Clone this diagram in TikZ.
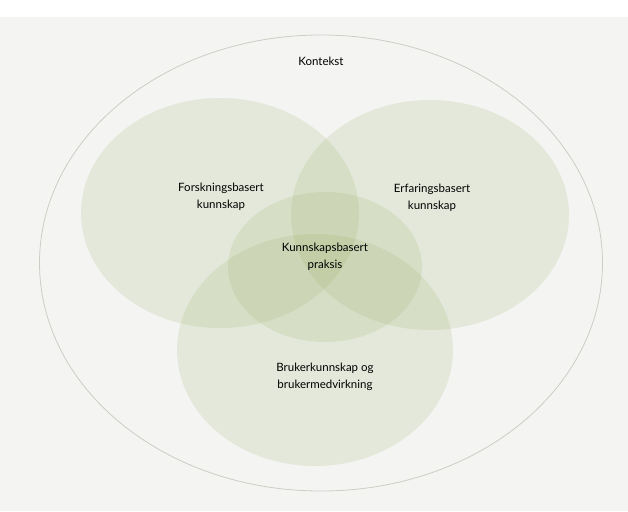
\documentclass[tikz,border=0pt]{standalone}
\usepackage{fontspec}
\setmainfont{Lato}
\begin{document}
\begin{tikzpicture}[x=1pt,y=-1pt,
    paper/.style={fill=paperbg,draw=none},
    field/.style={fill=sage,fill opacity=0.16,draw=none},
    frame/.style={draw=framegrey,line width=0.8pt},
    lbl/.style={align=center,text=black,inner sep=0pt,
                font=\fontsize{11.5}{17}\selectfont}]
  \definecolor{paperbg}{HTML}{F4F4F2}
  \definecolor{sage}{RGB}{150,172,95}
  \definecolor{framegrey}{HTML}{CDCDC5}
  \useasboundingbox (0,0) rectangle (628,511);
  % page
  \fill[white] (0,0) rectangle (628,511);
  \path[paper] (0,17) rectangle (628,511);
  % context boundary
  \draw[frame] (321,263) ellipse [x radius=281.5pt, y radius=228pt];
  % the three knowledge sources and the practice in the middle
  \path[field] (220,213) ellipse [x radius=139pt, y radius=115pt];
  \path[field] (430,215) ellipse [x radius=139pt, y radius=115pt];
  \path[field] (315,350) ellipse [x radius=138pt, y radius=116pt];
  \path[field] (325,267) ellipse [x radius=97pt, y radius=75pt];
  % labels
  \node[lbl] (kontekst) at (321,61) {Kontekst};
  \node[lbl] (forskning) at (221,197) {Forskningsbasert\\kunnskap};
  \node[lbl] (erfaring) at (432,198) {Erfaringsbasert\\kunnskap};
  \node[lbl] (praksis) at (325,257) {Kunnskapsbasert\\praksis};
  \node[lbl] (bruker) at (325,377) {Brukerkunnskap og\\brukermedvirkning};
\end{tikzpicture}
\end{document}
